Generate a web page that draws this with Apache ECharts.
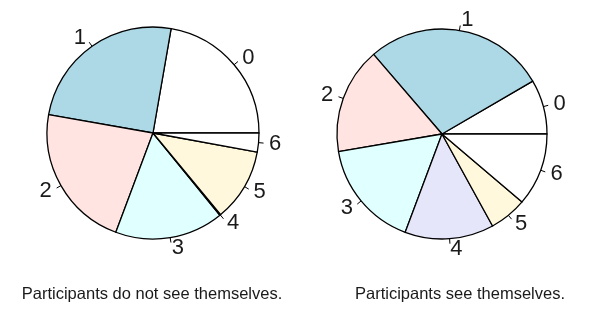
<!DOCTYPE html>
<html>
<head>
<meta charset="utf-8">
<script src="https://cdn.jsdelivr.net/npm/echarts@6/dist/echarts.min.js"></script>
<style>
html,body{margin:0;padding:0;background:#fff;}
#chart{width:598px;height:319px;}
</style>
</head>
<body>
<div id="chart"></div>
<script>
const categories = ['0', '1', '2', '3', '4', '5', '6'];
const notSeeValues = [22.3, 25.0, 22.1, 16.6, 0.15, 11.1, 2.9];
const seeValues = [8.4, 27.9, 16.4, 16.6, 13.7, 5.8, 11.2];
const sliceColors = ['#FFFFFF', '#ADD8E6', '#FFE4E1', '#E0FFFF', '#E6E6FA', '#FFF8DC', '#FFFFFF'];
const captions = ['Participants do not see themselves.', 'Participants see themselves.'];

const FONT = "'Liberation Sans', Arial, Helvetica, sans-serif";

function makeData(values) {
  return values.map((v, i) => ({
    name: categories[i],
    value: v,
    itemStyle: { color: sliceColors[i % sliceColors.length] }
  }));
}

// push the text radially outward past the tick end (like base-R pie labels)
function radialLabelLayout(params) {
  const pts = params.labelLinePoints;
  if (!pts || pts.length < 2) return {};
  const vx = pts[1][0] - pts[0][0];
  const vy = pts[1][1] - pts[0][1];
  const len = Math.sqrt(vx * vx + vy * vy) || 1;
  const gap = 5.5;
  return { dx: vx / len * gap, dy: vy / len * gap };
}

function pieSeries(values, center, radius) {
  return {
    type: 'pie',
    center: center,
    radius: radius,
    startAngle: 0,
    clockwise: false,
    avoidLabelOverlap: false,
    animation: false,
    silent: true,
    data: makeData(values),
    itemStyle: { borderColor: '#000', borderWidth: 1.3 },
    label: {
      show: true,
      position: 'outside',
      formatter: '{b}',
      color: '#1a1a1a',
      fontSize: 22,
      fontFamily: FONT,
      distanceToLabelLine: 0
    },
    labelLine: {
      show: true,
      length: 5,
      length2: 0,
      smooth: false,
      lineStyle: { color: '#000', width: 1 }
    },
    labelLayout: radialLabelLayout,
    emphasis: { disabled: true }
  };
}

const chart = echarts.init(document.getElementById('chart'), null, { renderer: 'canvas' });
chart.setOption({
  backgroundColor: '#ffffff',
  animation: false,
  title: [
    { text: captions[0], left: 147, top: 281, textAlign: 'center',
      textStyle: { fontSize: 16.5, fontWeight: 'normal', color: '#1a1a1a', fontFamily: FONT } },
    { text: captions[1], left: 455, top: 281, textAlign: 'center',
      textStyle: { fontSize: 16.5, fontWeight: 'normal', color: '#1a1a1a', fontFamily: FONT } }
  ],
  series: [
    pieSeries(notSeeValues, [153, 133], 106),
    pieSeries(seeValues, [442, 134], 105)
  ]
});
</script>
</body>
</html>
